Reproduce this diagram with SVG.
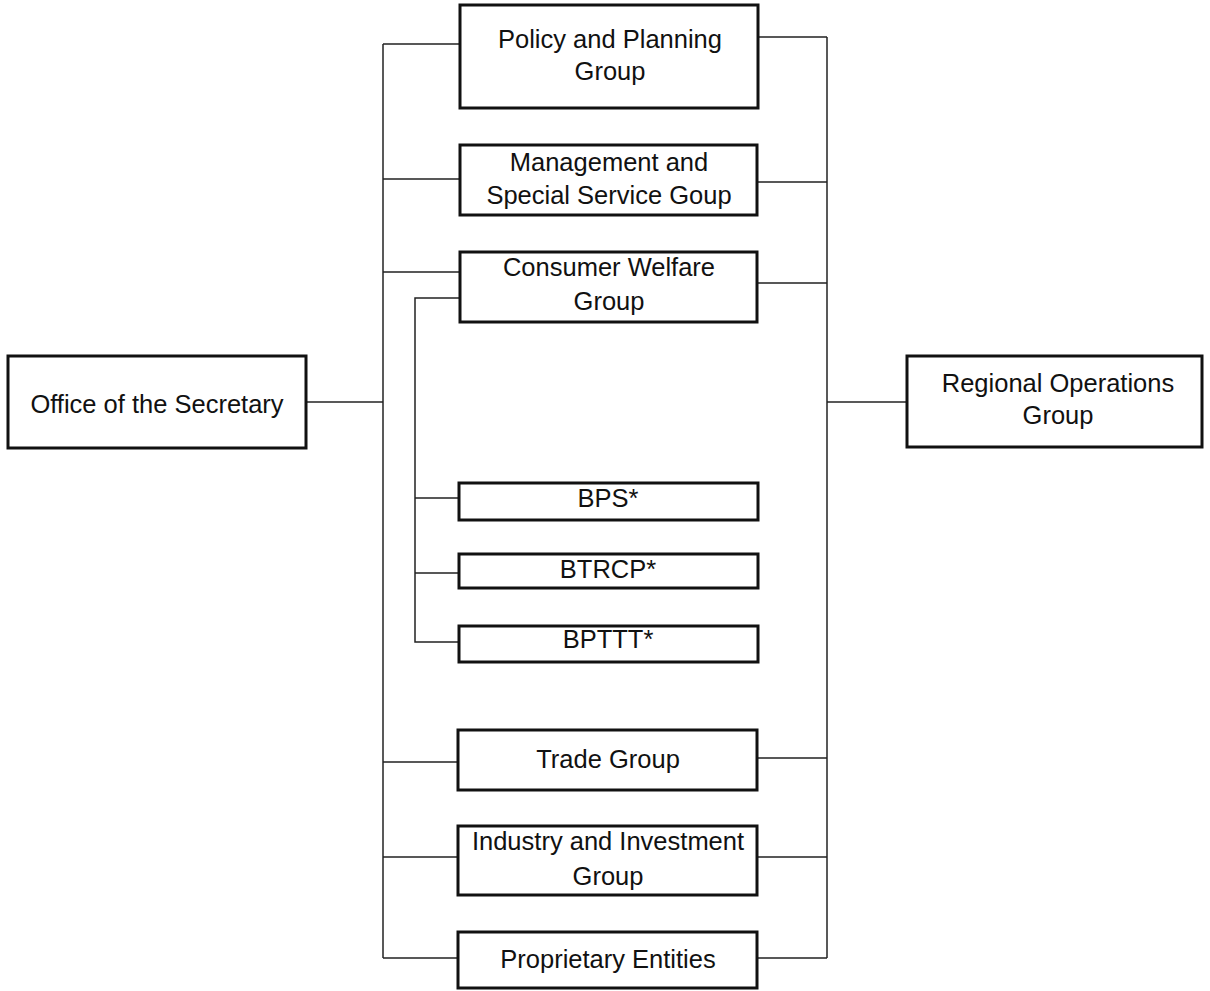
<svg xmlns="http://www.w3.org/2000/svg" width="1210" height="991" viewBox="0 0 1210 991">
<style>
.box{fill:#fff;stroke:#111;stroke-width:3}
.lbl{font-family:"Liberation Sans",Arial,sans-serif;font-size:25.5px;fill:#111;text-anchor:middle}
.con{fill:none;stroke:#222;stroke-width:1.5}
</style>
<rect width="1210" height="991" fill="#fff"/>
<g id="connectors">
<path class="con" d="M383,44 V958"/>
<path class="con" d="M827,37 V958"/>
<path class="con" d="M306,402 H383"/>
<path class="con" d="M827,402 H907"/>
<path class="con" d="M383,44 H460 M383,179 H460 M383,272 H460 M383,762 H458 M383,857 H458 M383,958 H458"/>
<path class="con" d="M758,37 H827 M758,182 H827 M758,283 H827 M758,758 H827 M758,857 H827 M758,958 H827"/>
<path class="con" d="M460,298 H415 V642 H459 M415,498 H459 M415,573 H459"/>
</g>
<g id="office"><rect class="box" x="8" y="356" width="298" height="92"/><text class="lbl" x="157" y="413">Office of the Secretary</text></g>
<g id="regional"><rect class="box" x="907" y="356" width="295" height="91"/><text class="lbl" x="1058" y="392">Regional Operations</text><text class="lbl" x="1058" y="424">Group</text></g>
<g id="policy"><rect class="box" x="460" y="5" width="298" height="103"/><text class="lbl" x="610" y="48">Policy and Planning</text><text class="lbl" x="610" y="80">Group</text></g>
<g id="management"><rect class="box" x="460" y="145" width="297" height="70"/><text class="lbl" x="609" y="171">Management and</text><text class="lbl" x="609" y="204">Special Service Goup</text></g>
<g id="consumer"><rect class="box" x="460" y="252" width="297" height="70"/><text class="lbl" x="609" y="276">Consumer Welfare</text><text class="lbl" x="609" y="310">Group</text></g>
<g id="bps"><rect class="box" x="459" y="483" width="299" height="37"/><text class="lbl" x="608" y="507">BPS*</text></g>
<g id="btrcp"><rect class="box" x="459" y="554" width="299" height="34"/><text class="lbl" x="608" y="578">BTRCP*</text></g>
<g id="bpttt"><rect class="box" x="459" y="626" width="299" height="36"/><text class="lbl" x="608" y="648">BPTTT*</text></g>
<g id="trade"><rect class="box" x="458" y="730" width="299" height="60"/><text class="lbl" x="608" y="768">Trade Group</text></g>
<g id="industry"><rect class="box" x="458" y="826" width="299" height="69"/><text class="lbl" x="608" y="850">Industry and Investment</text><text class="lbl" x="608" y="885">Group</text></g>
<g id="proprietary"><rect class="box" x="458" y="932" width="299" height="56"/><text class="lbl" x="608" y="968">Proprietary Entities</text></g>
</svg>
